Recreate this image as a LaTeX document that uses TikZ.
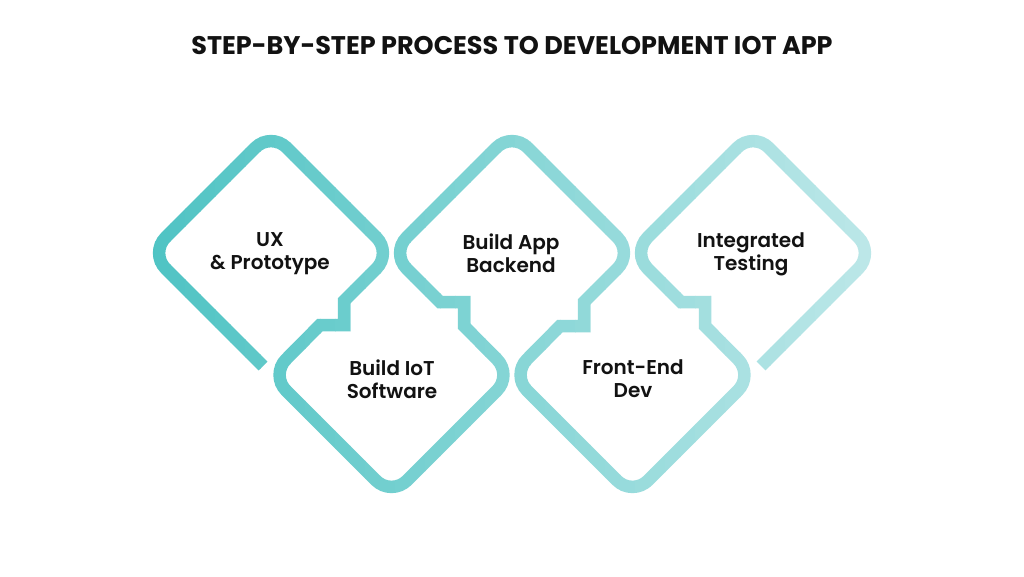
\documentclass[tikz,border=0pt]{standalone}
\usepackage{fontspec}
\usepackage{tikz}

\newfontfamily\labelfont{Poppins SemiBold}
\newfontfamily\titlefont{Poppins Bold}

\definecolor{puzzleleft}{HTML}{4EC3C3}
\definecolor{puzzleright}{HTML}{BFE8E9}

% the one band that runs through all five tiles
\newcommand{\puzzlepath}{(263,366) [rounded corners=22pt] -- (150,253) -- (271,132) -- (392,253)
  [sharp corners] -- (344,301) -- (344,325) -- (320,325) [rounded corners=22pt] -- (270.5,375)
  -- (391.5,496) -- (512.5,375)
  [sharp corners] -- (464,326) -- (464,302) -- (440,302) [rounded corners=22pt] -- (391,253)
  -- (512,132) -- (633,253)
  [sharp corners] -- (584,302) -- (584,326) -- (560,326) [rounded corners=22pt] -- (511.5,375)
  -- (632.5,496) -- (753.5,375)
  [sharp corners] -- (705,326) -- (705,302) -- (681,302) [rounded corners=22pt] -- (632,253)
  -- (753,132) -- (874,253) -- (761,366)}

\tikzset{
  puzzleline/.style={line width=12.5pt},
  steplabel/.style={font=\labelfont\fontsize{20}{23}\selectfont, align=center, text=black!93},
}

\begin{document}
\begin{tikzpicture}[x=1pt, y=-1pt]
    \path[fill=white, use as bounding box] (0,0) rectangle (1024,576);
    % colour runs from left to right, one strip at a time
    \foreach \i in {0,...,49} {
      \pgfmathsetmacro\xa{140+15*\i}
      \pgfmathtruncatemacro\pct{100*\i/49}
      \begin{scope}
        \clip (\xa,0) rectangle (\xa+15.6,576);
        \draw[puzzleline, draw=puzzleright!\pct!puzzleleft] \puzzlepath;
      \end{scope}
    }
    \node[font=\titlefont\fontsize{25.5}{30}\selectfont, text=black!93] (title) at (512,46) {STEP-BY-STEP PROCESS TO DEVELOPMENT IOT APP};
    \node[steplabel] (ux) at (270,254) {UX\\\& Prototype};
    \node[steplabel] (iot) at (392,379) {Build IoT\\Software};
    \node[steplabel] (backend) at (511,253) {Build App\\Backend};
    \node[steplabel] (frontend) at (633,379) {Front-End\\Dev};
    \node[steplabel] (testing) at (751,254) {Integrated\\Testing};
\end{tikzpicture}
\end{document}
